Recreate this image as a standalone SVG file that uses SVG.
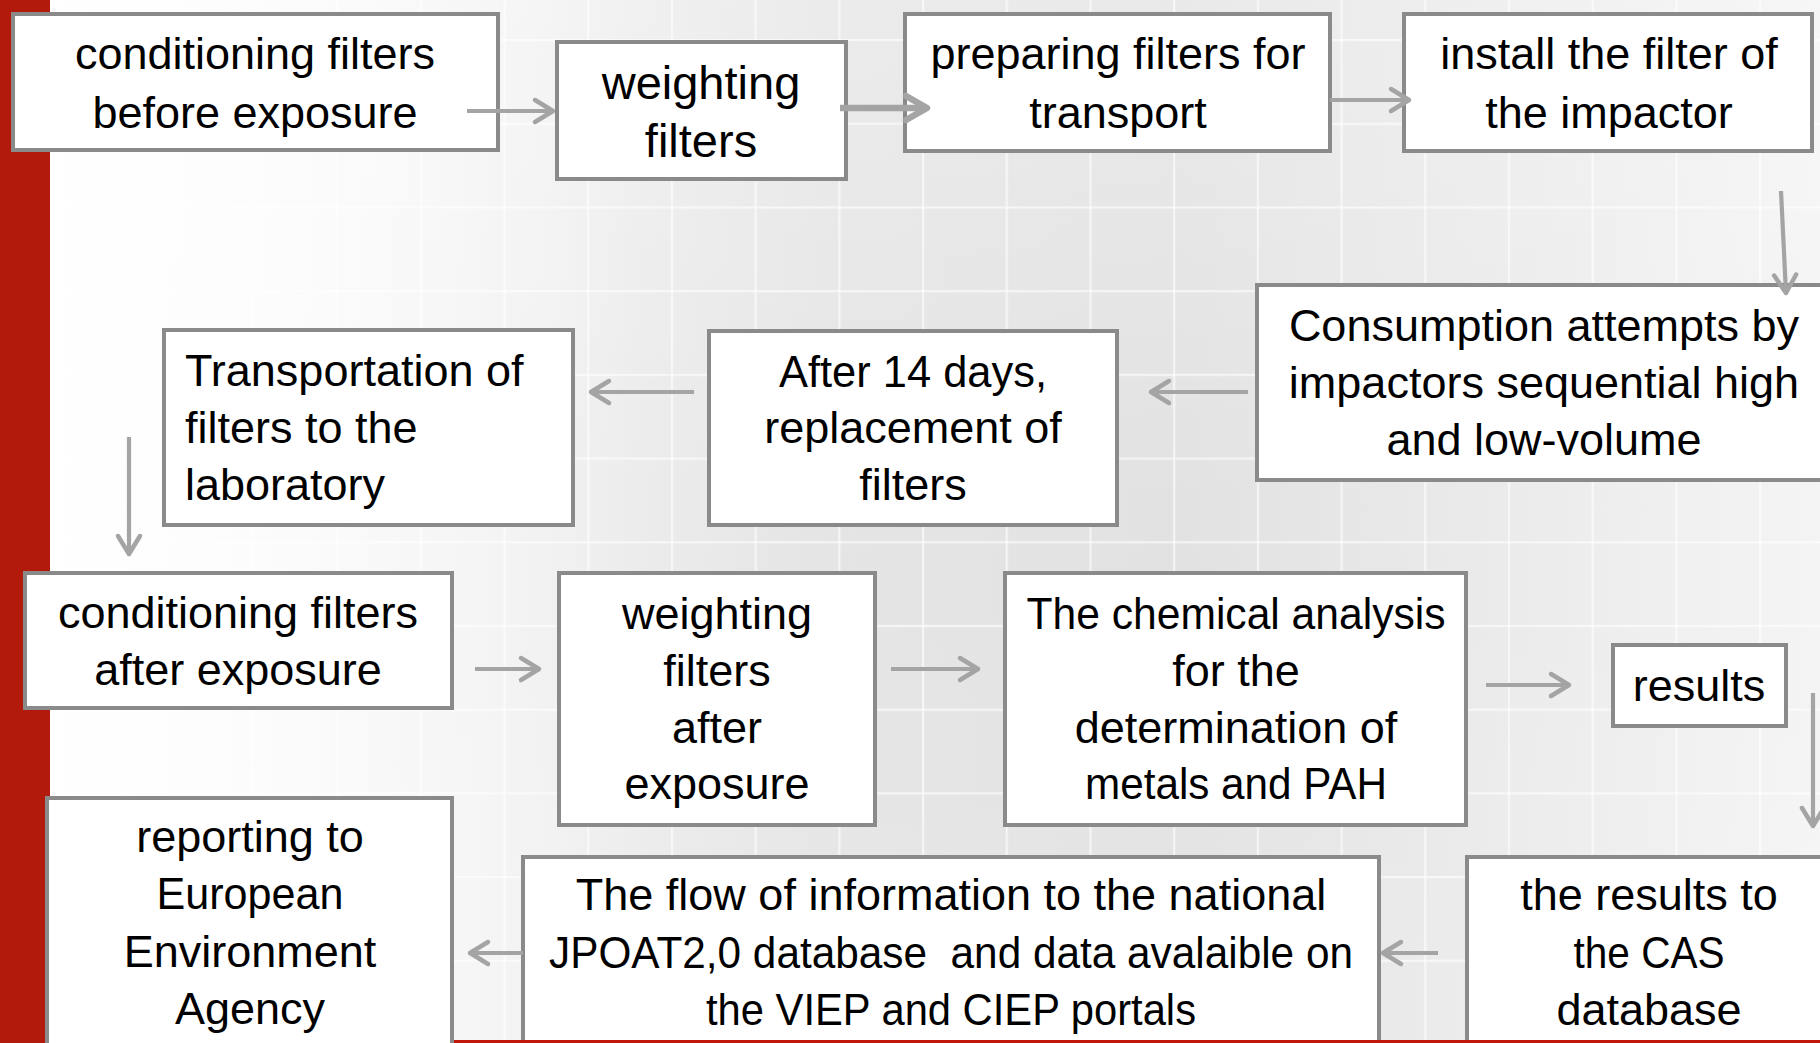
<svg xmlns="http://www.w3.org/2000/svg" width="1820" height="1043" viewBox="0 0 1820 1043">
<style>
.box{fill:#ffffff;stroke:#8a8a8a;stroke-width:4}
.t{font-family:"Liberation Sans",Arial,sans-serif;font-size:45px;fill:#000000;text-anchor:middle}
.tl{font-family:"Liberation Sans",Arial,sans-serif;font-size:45px;fill:#000000;text-anchor:start}
.c{fill:none;stroke:#a4a4a4;stroke-width:4.2;stroke-linecap:butt}
.ck{fill:none;stroke:#a4a4a4;stroke-width:6.5}
</style>
<defs>
<linearGradient id="bg" x1="0" y1="0" x2="1" y2="0">
<stop offset="0" stop-color="#ffffff"/>
<stop offset="0.2" stop-color="#f6f6f6"/>
<stop offset="0.45" stop-color="#e5e5e5"/>
<stop offset="0.65" stop-color="#e2e2e2"/>
<stop offset="0.85" stop-color="#ececec"/>
<stop offset="1" stop-color="#f4f4f4"/>
</linearGradient>
<linearGradient id="vg" x1="0" y1="0" x2="0" y2="1">
<stop offset="0" stop-color="#ffffff" stop-opacity="0.25"/>
<stop offset="0.5" stop-color="#ffffff" stop-opacity="0"/>
<stop offset="1" stop-color="#ffffff" stop-opacity="0.1"/>
</linearGradient>
<linearGradient id="lw" x1="0" y1="0" x2="1" y2="0">
<stop offset="0" stop-color="#ffffff" stop-opacity="0.85"/>
<stop offset="1" stop-color="#ffffff" stop-opacity="0"/>
</linearGradient>
<linearGradient id="glow" x1="0" y1="0" x2="1" y2="0">
<stop offset="0" stop-color="#ffffff" stop-opacity="1"/>
<stop offset="1" stop-color="#ffffff" stop-opacity="0"/>
</linearGradient>
<pattern id="grid" patternUnits="userSpaceOnUse" x="1.3" y="39" width="83.7" height="83.7">
<rect x="0" y="0" width="83.7" height="2.2" fill="#ffffff" fill-opacity="0.6"/>
<rect x="0" y="0" width="2.2" height="83.7" fill="#ffffff" fill-opacity="0.6"/>
</pattern>
<marker id="ah" markerUnits="userSpaceOnUse" viewBox="-26 -16 30 32" markerWidth="30" markerHeight="32" refX="0" refY="0" orient="auto">
<path d="M-18,-11 L0,0 L-18,11" fill="none" stroke="#a4a4a4" stroke-width="4.5" stroke-linejoin="round" stroke-linecap="round"/>
</marker>
<marker id="ahk" markerUnits="userSpaceOnUse" viewBox="-28 -18 32 36" markerWidth="32" markerHeight="36" refX="0" refY="0" orient="auto">
<path d="M-21,-12 L0,0 L-21,12" fill="none" stroke="#a4a4a4" stroke-width="6.5" stroke-linejoin="round" stroke-linecap="round"/>
</marker>
</defs>
<rect x="0" y="0" width="1820" height="1043" fill="url(#bg)"/>
<rect x="0" y="0" width="1820" height="1043" fill="url(#vg)"/>
<rect x="0" y="0" width="1820" height="1043" fill="url(#grid)"/>
<rect x="0" y="0" width="650" height="1043" fill="url(#lw)"/>
<rect x="50" y="0" width="28" height="1043" fill="url(#glow)"/>
<rect x="0" y="0" width="50" height="1043" fill="#b21b0b"/>

<g id="n1">
<rect class="box" x="13" y="14" width="485" height="136"/>
<text class="t" x="255" y="69">conditioning filters</text>
<text class="t" x="255" y="128">before exposure</text>
</g>
<g id="n2">
<rect class="box" x="557" y="42" width="289" height="137"/>
<text class="t" x="701" y="99" style="font-size:47px">weighting</text>
<text class="t" x="701" y="157" style="font-size:47px">filters</text>
</g>
<g id="n3">
<rect class="box" x="905" y="14" width="425" height="137"/>
<text class="t" x="1118" y="69">preparing filters for</text>
<text class="t" x="1118" y="128">transport</text>
</g>
<g id="n4">
<rect class="box" x="1404" y="14" width="408" height="137"/>
<text class="t" x="1609" y="69">install the filter of</text>
<text class="t" x="1609" y="128">the impactor</text>
</g>
<g id="n5">
<rect class="box" x="1257" y="285" width="590" height="195"/>
<text class="t" x="1544" y="341">Consumption attempts by</text>
<text class="t" x="1544" y="398">impactors sequential high</text>
<text class="t" x="1544" y="455">and low-volume</text>
</g>
<g id="n6">
<rect class="box" x="709" y="331" width="408" height="194"/>
<text class="t" x="913" y="387" textLength="268" lengthAdjust="spacingAndGlyphs">After 14 days,</text>
<text class="t" x="913" y="443">replacement of</text>
<text class="t" x="913" y="500">filters</text>
</g>
<g id="n7">
<rect class="box" x="164" y="330" width="409" height="195"/>
<text class="tl" x="185" y="386">Transportation of</text>
<text class="tl" x="185" y="443">filters to the</text>
<text class="tl" x="185" y="500">laboratory</text>
</g>
<g id="n8">
<rect class="box" x="25" y="573" width="427" height="135"/>
<text class="t" x="238" y="628">conditioning filters</text>
<text class="t" x="238" y="685">after exposure</text>
</g>
<g id="n9">
<rect class="box" x="559" y="573" width="316" height="252"/>
<text class="t" x="717" y="629">weighting</text>
<text class="t" x="717" y="686">filters</text>
<text class="t" x="717" y="743">after</text>
<text class="t" x="717" y="799">exposure</text>
</g>
<g id="n10">
<rect class="box" x="1005" y="573" width="461" height="252"/>
<text class="t" x="1236" y="629" textLength="419" lengthAdjust="spacingAndGlyphs">The chemical analysis</text>
<text class="t" x="1236" y="686">for the</text>
<text class="t" x="1236" y="743">determination of</text>
<text class="t" x="1236" y="799" textLength="302" lengthAdjust="spacingAndGlyphs">metals and PAH</text>
</g>
<g id="n11">
<rect class="box" x="1613" y="645" width="173" height="81"/>
<text class="t" x="1699" y="701">results</text>
</g>
<g id="n13">
<rect class="box" x="523" y="857" width="856" height="210"/>
<text class="t" x="951" y="910">The flow of information to the national</text>
<text class="t" x="951" y="968" xml:space="preserve" textLength="804" lengthAdjust="spacingAndGlyphs">JPOAT2,0 database  and data avalaible on</text>
<text class="t" x="951" y="1025" textLength="490" lengthAdjust="spacingAndGlyphs">the VIEP and CIEP portals</text>
</g>
<g id="n14">
<rect class="box" x="1467" y="857" width="380" height="210"/>
<text class="t" x="1649" y="910">the results to</text>
<text class="t" x="1649" y="968" textLength="151" lengthAdjust="spacingAndGlyphs">the CAS</text>
<text class="t" x="1649" y="1025">database</text>
</g>
<rect x="452" y="1040" width="1368" height="3" fill="#c0170b"/>
<g id="n12">
<rect class="box" x="47" y="798" width="405" height="270"/>
<text class="t" x="250" y="852">reporting to</text>
<text class="t" x="250" y="909" textLength="187" lengthAdjust="spacingAndGlyphs">European</text>
<text class="t" x="250" y="967">Environment</text>
<text class="t" x="250" y="1024">Agency</text>
</g>

<g id="connectors">
<path class="c" d="M467,111 H553" marker-end="url(#ah)"/>
<path class="ck" d="M840,108 H927" marker-end="url(#ahk)"/>
<path class="c" d="M1330,100 H1409" marker-end="url(#ah)"/>
<path class="c" d="M1781,191 L1786,293" marker-end="url(#ah)"/>
<path class="c" d="M1248,392 H1151" marker-end="url(#ah)"/>
<path class="c" d="M694,392 H591" marker-end="url(#ah)"/>
<path class="c" d="M129,437 V554" marker-end="url(#ah)"/>
<path class="c" d="M475,669 H539" marker-end="url(#ah)"/>
<path class="c" d="M891,669 H978" marker-end="url(#ah)"/>
<path class="c" d="M1486,685 H1569" marker-end="url(#ah)"/>
<path class="c" d="M1813,693 V826" marker-end="url(#ah)"/>
<path class="c" d="M1438,953 H1383" marker-end="url(#ah)"/>
<path class="c" d="M523,953 H470" marker-end="url(#ah)"/>
</g>
</svg>
